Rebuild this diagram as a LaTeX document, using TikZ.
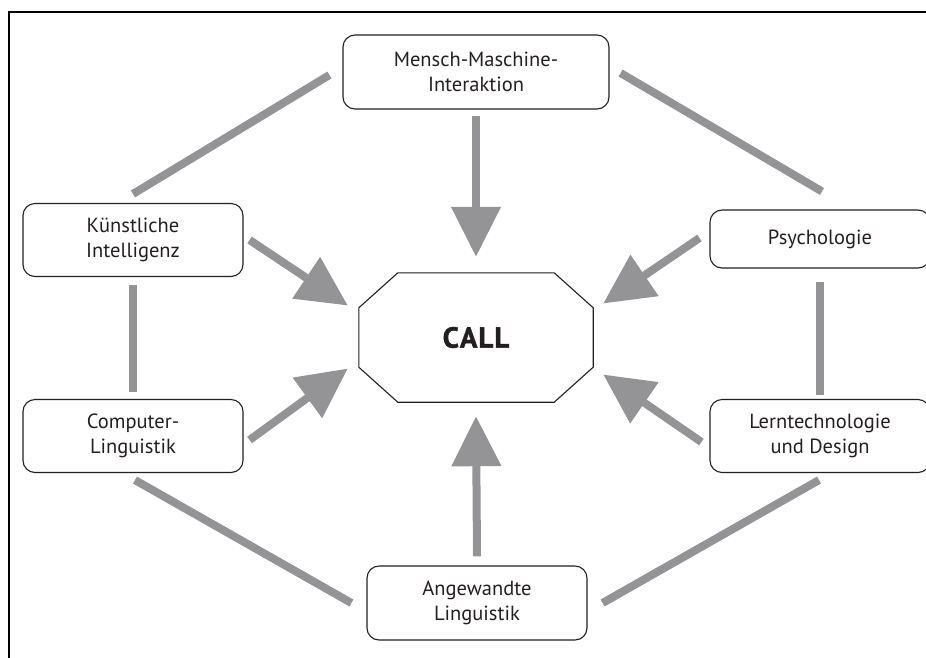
\documentclass[tikz,border=0pt]{standalone}
\usepackage{fontspec}
\setmainfont{PT Sans}
\newfontfamily\callfont[BoldFeatures={FakeBold=1.3}]{PT Sans}
\usetikzlibrary{arrows.meta,calc}
\definecolor{bargray}{RGB}{148,148,151}
\definecolor{inkblack}{RGB}{35,31,32}
\begin{document}
\begin{tikzpicture}[x=1pt,y=-1pt,
  box/.style={draw=inkblack,line width=1.1pt,rounded corners=12pt,minimum width=220pt,minimum height=73pt,align=center,font=\fontsize{20.5}{25}\selectfont,text=inkblack,inner sep=0pt},
  gline/.style={draw=bargray,line width=8pt},
  garrow/.style={draw=bargray,line width=8pt,-{Triangle[length=50pt,width=48pt]},fill=bargray},
  frame/.style={draw=black,line width=2.5pt}]
\useasboundingbox (0,0) rectangle (926,657);
\draw[frame] (9,670) -- (9,12) -- (940,12);
\node[box,minimum width=266pt,minimum height=74pt] (mmi) at (476,72) {Mensch-Maschine-\\Interaktion};
\node[box] (ki) at (133,240) {Künstliche\\Intelligenz};
\node[box,minimum height=58pt] (psy) at (820,239) {Psychologie};
\node[box] (cl) at (133,436) {Computer-\\Linguistik};
\node[box] (ld) at (820,436) {Lerntechnologie\\und Design};
\node[box,minimum height=74pt] (al) at (477,603) {Angewandte\\Linguistik};
\node[minimum width=234pt,minimum height=129pt,inner sep=0pt,font=\fontsize{29}{33}\callfont\bfseries,text=inkblack] (call) at (476,337.5) {C\kern1ptA\kern1ptL\kern1ptL};
\draw[line width=1.1pt,draw=inkblack,line join=miter]
  ($(call.north west)+(39,0)$) -- ($(call.north east)+(-39,0)$) -- ($(call.north east)+(0,35)$)
  -- ($(call.south east)+(0,-35)$) -- ($(call.south east)+(-39,0)$) -- ($(call.south west)+(39,0)$)
  -- ($(call.south west)+(0,-35)$) -- ($(call.north west)+(0,35)$) -- cycle;
% arrows
\draw[garrow] ($(mmi.south)+(0,6)$) -- ($(call.north)+(0,-16)$);
\draw[garrow] ($(al.north)+(0,-9)$) -- ($(call.south)+(0,14)$);
\draw[garrow] ($(ki.east)+(6,0)$) -- ($(call.west)+(-11,-32)$);
\draw[garrow] ($(cl.east)+(6,4)$) -- ($(call.west)+(-11,31)$);
\draw[garrow] ($(psy.west)+(-10,-1)$) -- ($(call.east)+(10,-34)$);
\draw[garrow] ($(ld.west)+(-8,6)$) -- ($(call.east)+(10,37)$);
% lines
\draw[gline] ($(mmi.west)+(-13,3)$) -- ($(ki.north)+(0,-9)$);
\draw[gline] ($(mmi.east)+(11,1)$) -- ($(psy.north)+(2,-18)$);
\draw[gline] ($(ki.south)+(0,8)$) -- ($(cl.north)+(0,-7)$);
\draw[gline] ($(psy.south)+(0,13)$) -- ($(ld.north)+(0,-4)$);
\draw[gline] ($(cl.south)+(2,7)$) -- ($(al.west)+(-15,0)$);
\draw[gline] ($(ld.south)+(-1,7)$) -- ($(al.east)+(15,0)$);
\end{tikzpicture}
\end{document}
